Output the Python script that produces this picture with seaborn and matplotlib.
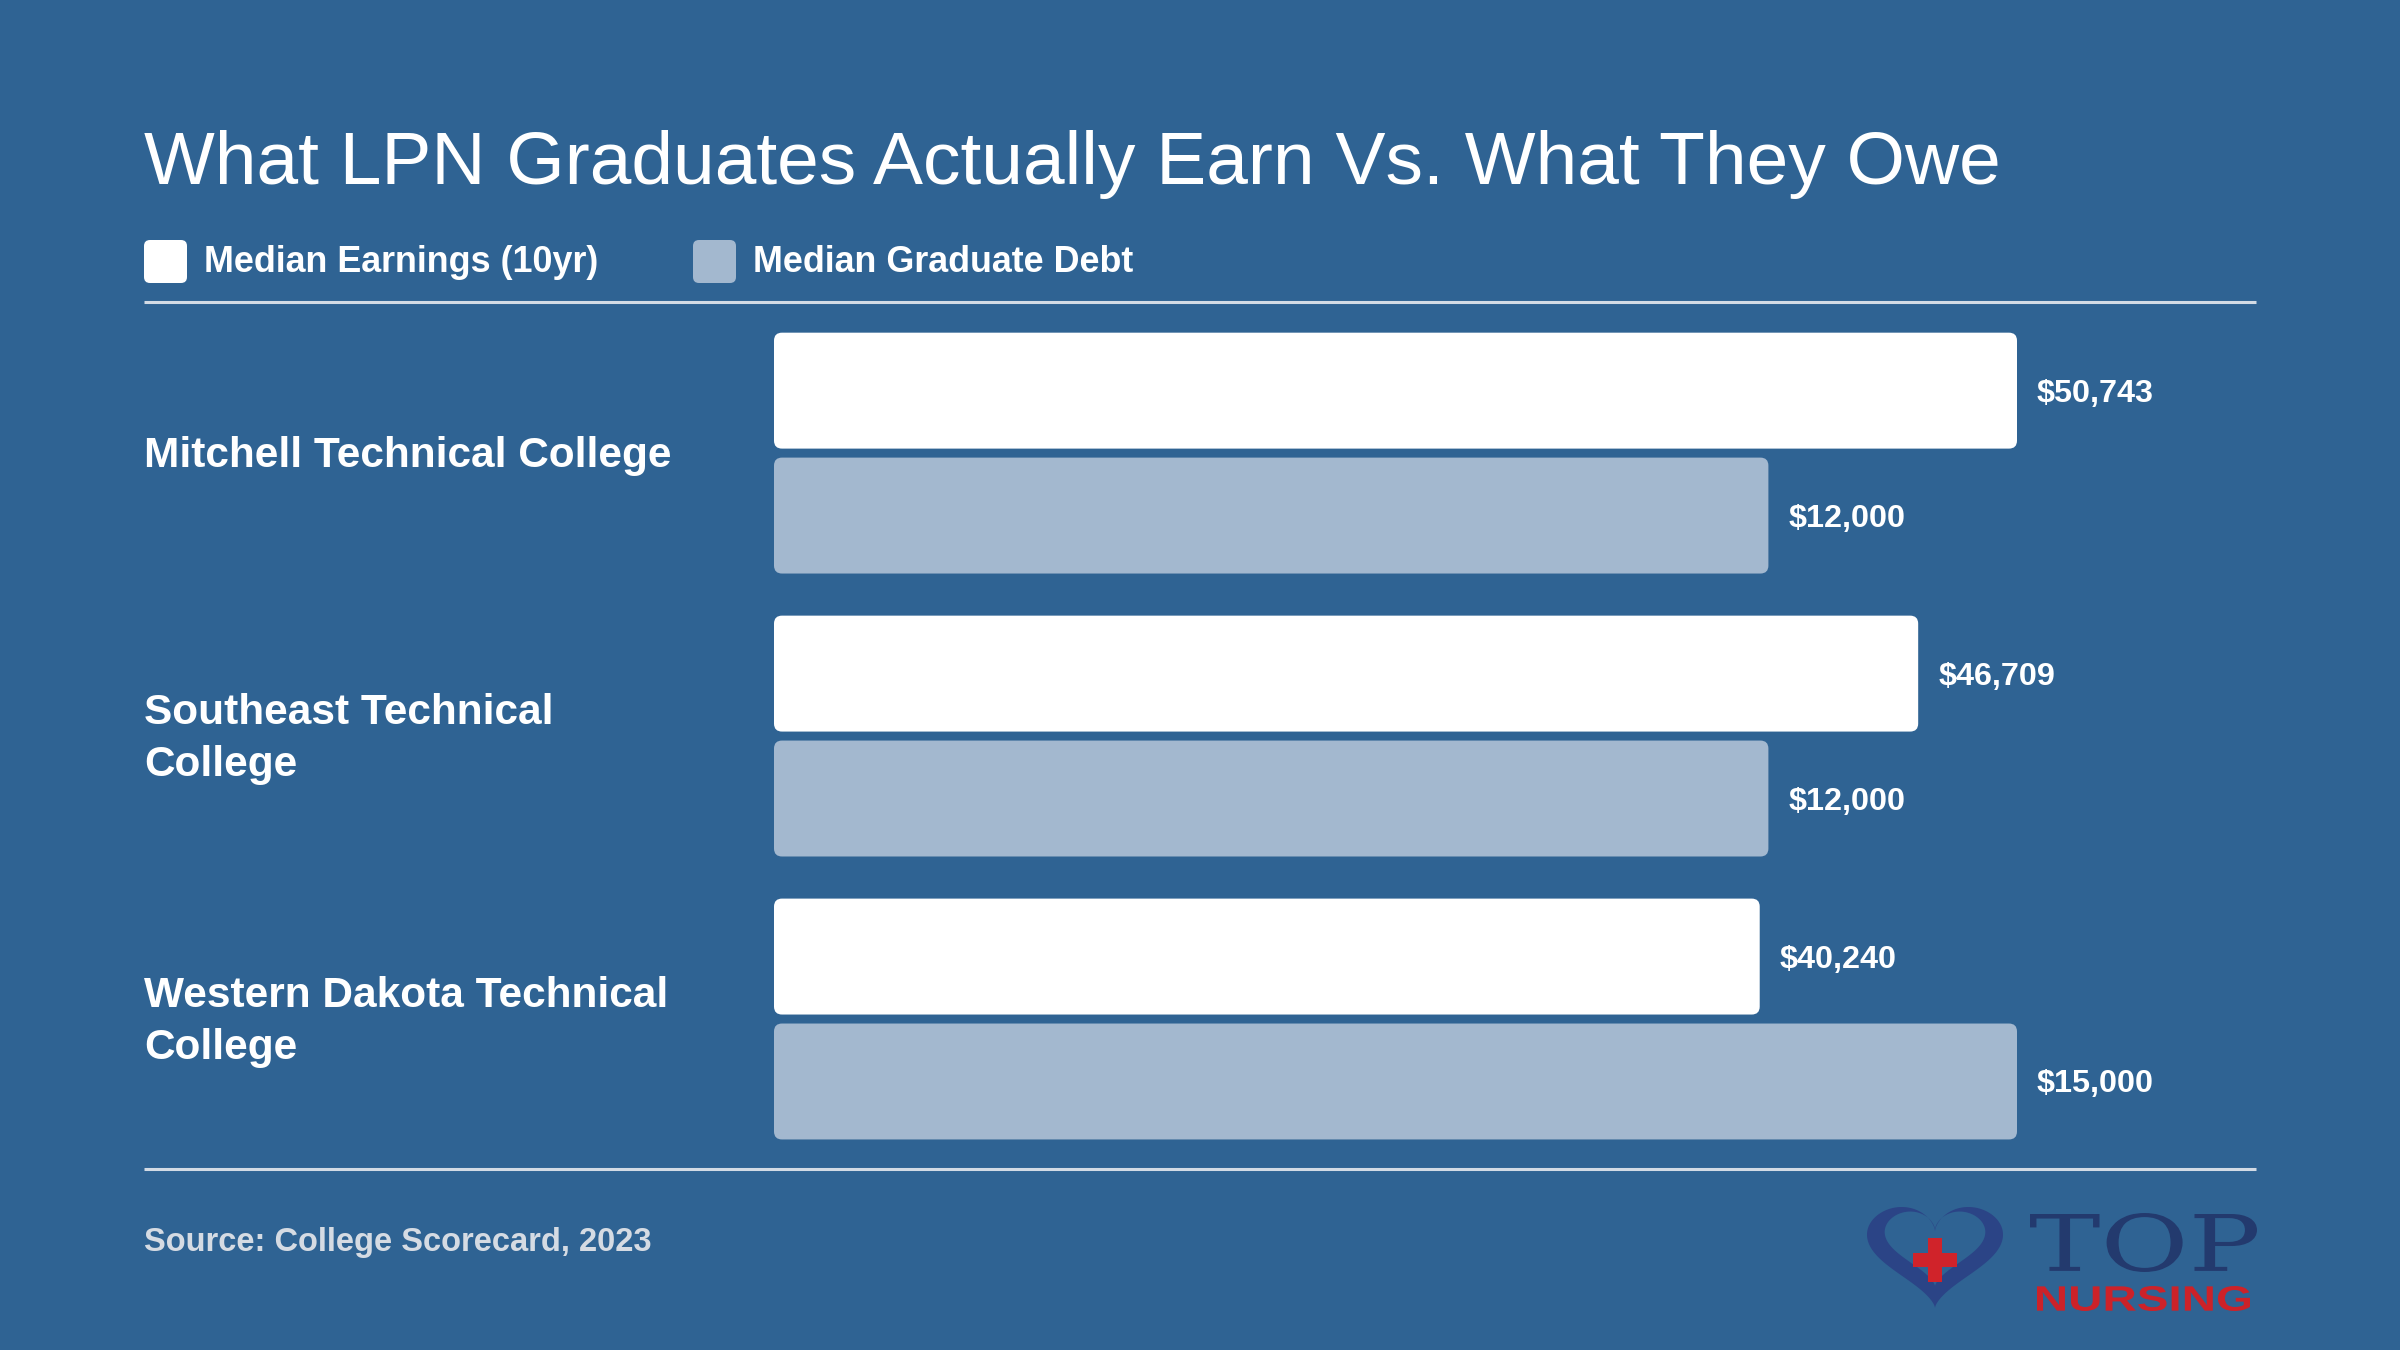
import pandas as pd
import seaborn as sns
import matplotlib.pyplot as plt
from matplotlib.patches import FancyBboxPatch, PathPatch, Rectangle
from matplotlib.path import Path
from matplotlib.textpath import TextPath
from matplotlib.font_manager import FontProperties
from matplotlib import transforms
import numpy as np

# Data
colleges = ["Mitchell Technical College", "Southeast Technical College", "Western Dakota Technical College"]
college_labels = ["Mitchell Technical College", "Southeast Technical\nCollege", "Western Dakota Technical\nCollege"]
series = ["Median Earnings (10yr)", "Median Graduate Debt"]
earnings = [50743, 46709, 40240]
debt = [12000, 12000, 15000]

BG = "#2f6393"
EARN_COL = "#ffffff"
DEBT_COL = "#a3b8cf"
LINE_COL = "#d3dbe5"

# each series is scaled to its own maximum (as in the reference)
rows = []
for name, vals in zip(series, [earnings, debt]):
    top = max(vals)
    for c, v in zip(colleges, vals):
        rows.append({"college": c, "series": name, "value": v, "scaled": v / top})
df = pd.DataFrame(rows)

sns.set_theme(style="white")
plt.rcParams["font.family"] = ["Liberation Sans", "DejaVu Sans"]

fig = plt.figure(figsize=(24, 13.5), dpi=100, facecolor=BG)

# decoration layer in pixel coordinates
deco = fig.add_axes([0, 0, 1, 1], zorder=0)
deco.set_xlim(0, 2400)
deco.set_ylim(1350, 0)
deco.axis("off")

ax = fig.add_axes([774 / 2400, 1 - 1169 / 1350, (2256 - 774) / 2400, (1169 - 302) / 1350], zorder=1)
ax.patch.set_alpha(0)
sns.barplot(data=df, x="scaled", y="college", hue="series", orient="h",
            palette=[EARN_COL, DEBT_COL], saturation=1, width=0.883, gap=0.072,
            errorbar=None, legend=False, ax=ax, linewidth=0)
ax.set_xlim(0, 1482 / 1243)
ax.set_ylim(2.530, -0.534)
ax.axis("off")

# round the bar corners
xpp = (ax.get_xlim()[1] - ax.get_xlim()[0]) / 1482
ypp = abs(ax.get_ylim()[0] - ax.get_ylim()[1]) / 867
r_px = 8
for container in ax.containers:
    for bar in container:
        x, y = bar.get_x(), bar.get_y()
        w, h = bar.get_width(), bar.get_height()
        bar.set_visible(False)
        ax.add_patch(FancyBboxPatch((x, y), w, h,
                                    boxstyle=f"round,pad=0,rounding_size={r_px * xpp}",
                                    mutation_aspect=ypp / xpp,
                                    facecolor=bar.get_facecolor(), edgecolor="none"))

# value labels
for container, vals in zip(ax.containers, [earnings, debt]):
    for bar, v in zip(container, vals):
        ax.text(bar.get_width() + 20 * xpp, bar.get_y() + bar.get_height() / 2 + 3 * ypp,
                f"${v:,}", color="white", fontsize=23.3, fontweight="bold",
                va="center", ha="left")

# category labels
blend = transforms.blended_transform_factory(fig.transFigure, ax.transData)
for i, lab in enumerate(college_labels):
    fig.text(144 / 2400, i + 3 * ypp, lab, transform=blend, color="white", fontsize=30.5,
             fontweight="bold", va="center", ha="left", linespacing=1.38)

# title
deco.text(144, 184, "What LPN Graduates Actually Earn Vs. What They Owe",
          color="white", fontsize=54, va="baseline", ha="left")

# legend
for (sx, tx), name, col in zip([(144, 204), (693, 753)], series, [EARN_COL, DEBT_COL]):
    deco.add_patch(FancyBboxPatch((sx, 240), 43, 43, boxstyle="round,pad=0,rounding_size=6",
                                  facecolor=col, edgecolor="none"))
    deco.text(tx, 272, name, color="white", fontsize=25.8, fontweight="bold",
              va="baseline", ha="left")

# rules
deco.plot([144, 2256], [302, 302], color=LINE_COL, lw=2.2, solid_capstyle="butt")
deco.plot([144, 2256], [1169, 1169], color=LINE_COL, lw=2.2, solid_capstyle="butt")

# source
deco.text(144, 1251, "Source: College Scorecard, 2023", color="#d5dbe3",
          fontsize=23.5, fontweight="bold", va="baseline", ha="left")

# logo
t = np.linspace(0, 2 * np.pi, 400)
hx = 16 * np.sin(t) ** 3
hy = 13 * np.cos(t) - 5 * np.cos(2 * t) - 2 * np.cos(3 * t) - np.cos(4 * t)
def to_px(px, py, box):
    x0, y0, x1, y1 = box
    X = x0 + (px - hx.min()) / (hx.max() - hx.min()) * (x1 - x0)
    Y = y0 + (hy.max() - py) / (hy.max() - hy.min()) * (y1 - y0)
    return np.column_stack([X, Y])
outer = to_px(hx, hy, (1867, 1207, 2003, 1308))
inner = to_px(hx * 0.74, hy * 0.74 + 1.8, (1867, 1207, 2003, 1308))
verts = np.vstack([outer, inner[::-1]])
codes = ([Path.MOVETO] + [Path.LINETO] * (len(outer) - 2) + [Path.CLOSEPOLY]) * 2
deco.add_patch(PathPatch(Path(verts, codes), facecolor="#2b4486", edgecolor="none"))
deco.add_patch(Rectangle((1935 - 22, 1260 - 7), 44, 14, facecolor="#d0232a", edgecolor="none"))
deco.add_patch(Rectangle((1935 - 7, 1260 - 22), 14, 44, facecolor="#d0232a", edgecolor="none"))

def fit_text(s, box, color, prop):
    tp = TextPath((0, 0), s, size=100, prop=prop)
    ext = tp.get_extents()
    x0, y0, x1, y1 = box
    tr = (transforms.Affine2D().translate(-ext.x0, -ext.y0)
          .scale((x1 - x0) / ext.width, -(y1 - y0) / ext.height).translate(x0, y1))
    deco.add_patch(PathPatch(tr.transform_path(tp), facecolor=color, edgecolor="none"))

fit_text("TOP", (2030, 1213, 2257, 1272), "#233a6e", FontProperties(family="DejaVu Serif"))
fit_text("NURSING", (2037, 1286, 2250, 1311), "#cc2229", FontProperties(family="Liberation Sans", weight="bold"))

fig.savefig("out.png", dpi=100, facecolor=BG)
